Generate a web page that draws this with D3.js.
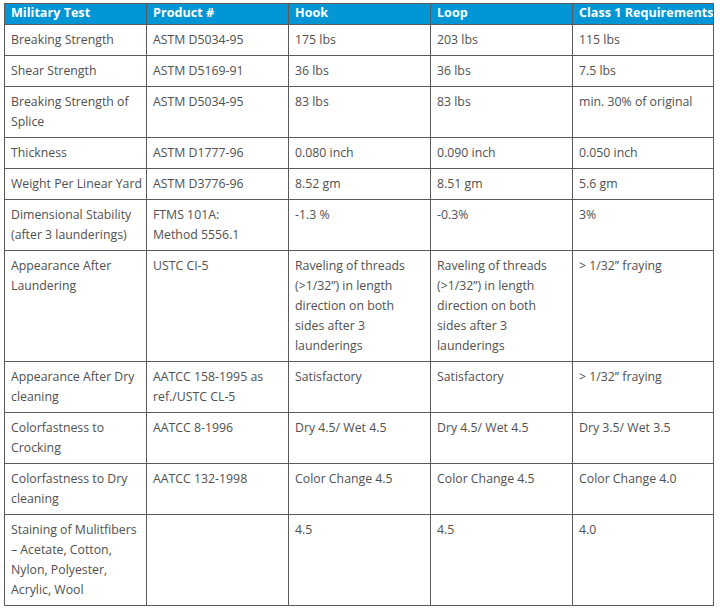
<!DOCTYPE html>
<html>
<head>
<meta charset="utf-8">
<script src="https://cdn.jsdelivr.net/npm/d3@7"></script>
<style>
  body { margin: 0; background: #fff; }
  text { font-family: "Open Sans", sans-serif; font-size: 12.3px; }
</style>
</head>
<body>
<script>
// table content, one array per column
const columns = ["Military Test", "Product #", "Hook", "Loop", "Class 1 Requirements"];

const tests = [
  "Breaking Strength",
  "Shear Strength",
  "Breaking Strength of\nSplice",
  "Thickness",
  "Weight Per Linear Yard",
  "Dimensional Stability\n(after 3 launderings)",
  "Appearance After\nLaundering",
  "Appearance After Dry\ncleaning",
  "Colorfastness to\nCrocking",
  "Colorfastness to Dry\ncleaning",
  "Staining of Mulitfibers\n\u2013 Acetate, Cotton,\nNylon, Polyester,\nAcrylic, Wool"
];

const products = [
  "ASTM D5034-95",
  "ASTM D5169-91",
  "ASTM D5034-95",
  "ASTM D1777-96",
  "ASTM D3776-96",
  "FTMS 101A:\nMethod 5556.1",
  "USTC CI-5",
  "AATCC 158-1995 as\nref./USTC CL-5",
  "AATCC 8-1996",
  "AATCC 132-1998",
  ""
];

const hook = [
  "175 lbs",
  "36 lbs",
  "83 lbs",
  "0.080 inch",
  "8.52 gm",
  "-1.3 %",
  "Raveling of threads\n(>1/32\u201d) in length\ndirection on both\nsides after 3\nlaunderings",
  "Satisfactory",
  "Dry 4.5/ Wet 4.5",
  "Color Change 4.5",
  "4.5"
];

const loop = [
  "203 lbs",
  "36 lbs",
  "83 lbs",
  "0.090 inch",
  "8.51 gm",
  "-0.3%",
  "Raveling of threads\n(>1/32\u201d) in length\ndirection on both\nsides after 3\nlaunderings",
  "Satisfactory",
  "Dry 4.5/ Wet 4.5",
  "Color Change 4.5",
  "4.5"
];

const class1 = [
  "115 lbs",
  "7.5 lbs",
  "min. 30% of original",
  "0.050 inch",
  "5.6 gm",
  "3%",
  "> 1/32\u201d fraying",
  "> 1/32\u201d fraying",
  "Dry 3.5/ Wet 3.5",
  "Color Change 4.0",
  "4.0"
];

const width = 720, height = 614;
const lineHeight = 20;
const headerHeight = 21;
const borderColor = "#5b5b5b";
const headerColor = "#0096d6";
const textColor = "#505050";

// build rows from the column arrays
let rows = tests.map(function(t, i) {
  return [t, products[i], hook[i], loop[i], class1[i]].map(function(s) { return s.split("\n"); });
});

let svg = d3.select("body")
  .append("svg")
  .attr("width", width)
  .attr("height", height);

// columns: equal bands across the table
let x = d3.scaleBand()
  .domain(d3.range(columns.length))
  .range([4, 714])
  .round(true);

// row heights depend on how many lines the tallest cell has
let rowHeights = rows.map(function(r) {
  return 11 + lineHeight * d3.max(r, function(c) { return c.length; });
});
let tops = [3];
tops.push(3 + headerHeight);
rowHeights.forEach(function(h) { tops.push(tops[tops.length - 1] + h); });
let tableBottom = tops[tops.length - 1];

let y = d3.scaleOrdinal()
  .domain(d3.range(rows.length))
  .range(tops.slice(1));

// header band
svg.append("rect")
  .attr("x", x(0))
  .attr("y", tops[0])
  .attr("width", 713 - x(0))
  .attr("height", headerHeight)
  .attr("fill", headerColor);

svg.append("g")
  .selectAll("text")
  .data(columns)
  .join("text")
  .attr("x", function(d, i) { return x(i) + 7; })
  .attr("y", tops[0] + 14)
  .attr("fill", "#fff")
  .style("font-weight", 700)
  .style("font-size", "12.6px")
  .text(function(d) { return d; });

// body cells
let rowG = svg.append("g")
  .selectAll("g")
  .data(rows)
  .join("g")
  .attr("transform", function(d, i) { return `translate(0, ${y(i)})`; });

rowG.selectAll("text")
  .data(function(d) { return d; })
  .join("text")
  .attr("x", function(d, i) { return x(i) + 7; })
  .attr("y", 20)
  .attr("fill", textColor)
  .each(function(lines) {
    let t = d3.select(this);
    let xPos = t.attr("x");
    lines.forEach(function(line, k) {
      t.append("tspan")
        .attr("x", xPos)
        .attr("dy", k === 0 ? 0 : lineHeight)
        .text(line);
    });
  });

// grid lines
let grid = svg.append("g")
  .attr("stroke", borderColor)
  .attr("stroke-width", 1)
  .attr("shape-rendering", "crispEdges");

let vLines = d3.range(columns.length).map(function(i) { return x(i) + 0.5; });
vLines.push(713.5);

grid.selectAll(".v")
  .data(vLines)
  .join("line")
  .attr("class", "v")
  .attr("x1", function(d) { return d; })
  .attr("x2", function(d) { return d; })
  .attr("y1", tops[0])
  .attr("y2", tableBottom + 1);

grid.selectAll(".h")
  .data(tops)
  .join("line")
  .attr("class", "h")
  .attr("x1", x(0))
  .attr("x2", 714)
  .attr("y1", function(d) { return d + 0.5; })
  .attr("y2", function(d) { return d + 0.5; });
</script>
</body>
</html>
